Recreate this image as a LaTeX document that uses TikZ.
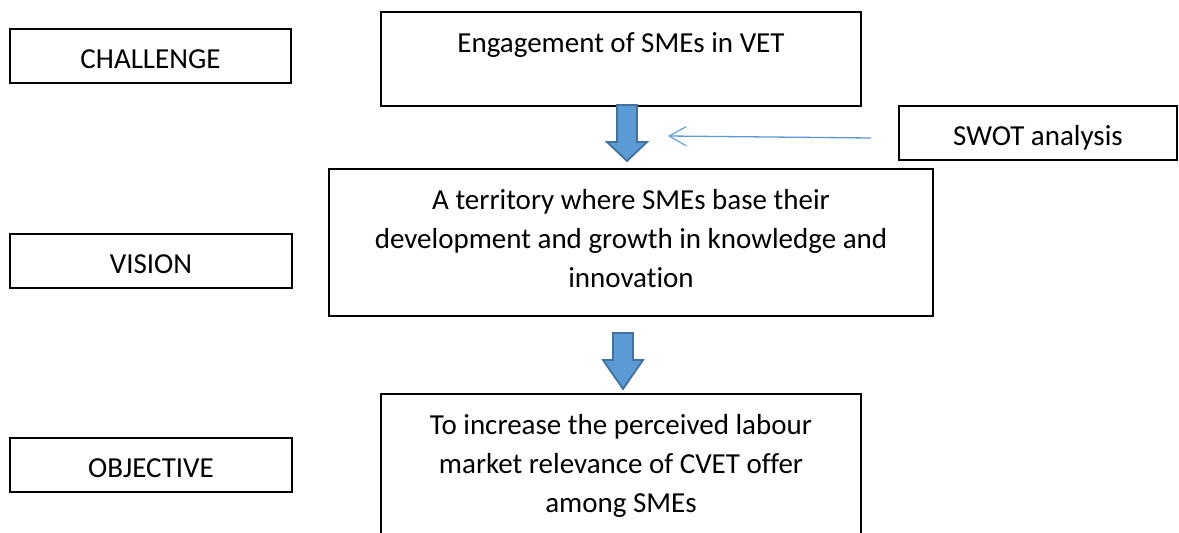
\documentclass[tikz,border=0pt]{standalone}
\usepackage{fontspec}
\setmainfont[Ligatures=CommonOff]{Carlito}
\usetikzlibrary{arrows.meta}
\definecolor{arrowfill}{HTML}{5B9BD5}
\definecolor{arrowline}{HTML}{41719C}
\tikzset{
  box/.style={draw=black, line width=1.8pt, anchor=north west, inner sep=0pt, outer sep=0pt},
  lbl/.style={anchor=base, inner sep=0pt, font=\fontsize{29}{39}\selectfont},
  blockarrow/.style={fill=arrowfill, draw=arrowline, line width=1.8pt, line join=miter},
  thinarrow/.style={draw=arrowfill, line width=1.3pt, -{Straight Barb[length=17pt,width=19pt,line width=1.1pt]}}
}
\begin{document}
\begin{tikzpicture}[x=1pt,y=-1pt]
\useasboundingbox (0,0) rectangle (1179,533);
\fill[white] (0,0) rectangle (1179,533);
\clip (0,0) rectangle (1179,533);
% left labels
\node[box, minimum width=281pt, minimum height=54pt] (challenge) at (10,29) {};
\node[box, minimum width=282pt, minimum height=54pt] (visionlbl) at (10,234) {};
\node[box, minimum width=282pt, minimum height=54pt] (objectivelbl) at (10,438) {};
\node[lbl] (tchallenge) at (150.5,68) {CHALLENGE};
\node[lbl] (tvision) at (151,273) {VISION};
\node[lbl] (tobjective) at (151,477) {OBJECTIVE};
% main boxes
\node[box, minimum width=480pt, minimum height=94pt] (engage) at (381,12) {};
\node[lbl] (tengage) at (621,52) {Engagement of SMEs in VET};
\node[box, minimum width=278pt, minimum height=54pt] (swot) at (899,106) {};
\node[lbl] (tswot) at (1038,145) {SWOT analysis};
\node[box, minimum width=604pt, minimum height=147pt] (visionbox) at (329,169) {};
\node[lbl] (tv1) at (631,209) {A territory where SMEs base their};
\node[lbl] (tv2) at (631,248) {development and growth in knowledge and};
\node[lbl] (tv3) at (631,287) {innovation};
\node[box, minimum width=480pt, minimum height=170pt] (objbox) at (381,394) {};
\node[lbl] (to1) at (621,434) {To increase the perceived labour};
\node[lbl] (to2) at (621,473) {market relevance of CVET offer};
\node[lbl] (to3) at (621,512) {among SMEs};
% block arrows
\draw[blockarrow] (617,105) -- (637,105) -- (637,142) -- (647,142) -- (627,161) -- (607,142) -- (617,142) -- cycle;
\draw[blockarrow] (613,333) -- (633,333) -- (633,360) -- (643,360) -- (623,389) -- (603,360) -- (613,360) -- cycle;
% thin arrow
\coordinate (swotfrom) at (871,138);
\coordinate (swottip) at (668,136);
\draw[thinarrow] (swotfrom) -- (swottip);
\end{tikzpicture}
\end{document}
